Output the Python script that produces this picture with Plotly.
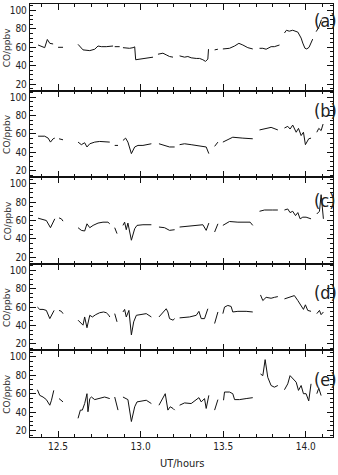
import plotly.graph_objects as go

# ---- data (UT hours, CO ppbv); None separates data gaps ----
a_x = [12.379,12.399,12.419,12.435,12.450,12.470,None,
       12.500,12.530,None,
       12.621,12.651,12.692,12.722,12.742,12.762,12.792,12.833,None,
       12.843,12.873,None,
       12.893,12.933,12.954,12.964,12.970,12.994,13.034,13.075,None,
       13.105,13.135,13.155,13.175,13.196,None,
       13.236,13.266,13.286,13.306,13.337,13.357,13.377,13.393,13.407,13.411,None,
       13.448,13.468,None,
       13.498,13.538,13.569,13.595,13.619,13.649,13.679,None,
       13.720,13.740,13.760,13.780,13.790,13.810,13.841,None,
       13.871,13.883,13.900,13.921,13.952,13.972,13.982,13.995,14.006,14.020,14.042,None,
       14.063,14.080,14.095]
a_y = [62.5,60.7,59.6,68.5,64.3,63.6,None,
       60.0,60.0,None,
       63.2,57.2,56.4,57.9,61.4,60.7,60.7,61.4,None,
       60.7,60.7,None,
       59.6,58.9,59.6,60.5,46.5,47.2,48.6,49.3,None,
       52.5,53.6,51.8,50.0,49.3,None,
       50.7,49.3,50.0,48.6,47.9,47.9,46.5,44.7,47.2,58.0,None,
       57.2,57.9,None,
       58.2,58.9,61.4,64.3,62.5,59.6,58.2,None,
       58.9,58.9,57.9,60.0,60.7,60.7,62.5,None,
       75.5,78.5,77.5,78.5,76.5,70.0,64.6,59.0,58.2,60.0,68.9,None,
       77.0,82.0,90.0]

b_x = [12.379,12.419,12.440,12.454,12.470,12.480,None,
       12.506,12.530,None,
       12.621,12.641,12.661,12.675,12.692,12.722,12.752,12.792,12.813,None,
       12.843,12.863,None,
       12.893,12.909,12.923,12.944,12.964,12.984,13.014,13.065,None,
       13.111,13.145,13.175,13.206,None,
       13.236,13.266,13.306,13.347,13.377,13.397,13.413,None,
       13.448,13.468,None,
       13.498,13.518,13.558,13.619,13.679,None,
       13.720,13.760,13.790,13.831,None,
       13.871,13.891,13.905,13.921,13.942,13.956,13.972,13.986,13.998,14.018,14.032,None,
       14.067,14.079,14.093,14.105]
b_y = [57.5,57.5,55.4,51.1,54.7,55.4,None,
       54.7,53.6,None,
       51.1,48.3,50.4,45.8,49.3,51.1,51.8,51.8,51.1,None,
       47.5,47.5,None,
       52.9,55.4,51.1,38.6,45.8,47.5,47.5,49.3,None,
       49.3,47.5,45.8,45.8,None,
       48.3,49.3,48.3,47.5,46.8,45.8,38.6,None,
       46.5,51.1,None,
       51.1,52.9,56.4,55.4,54.7,None,
       64.3,66.0,67.1,64.3,None,
       66.4,68.2,65.3,69.6,61.8,66.0,58.2,61.8,48.3,54.7,55.4,None,
       61.8,66.0,63.6,70.7]

c_x = [12.379,12.409,12.429,12.454,12.474,12.480,None,
       12.506,12.520,12.530,None,
       12.621,12.641,12.661,12.675,12.692,12.712,12.742,12.772,12.802,12.813,None,
       12.843,12.857,None,
       12.893,12.903,12.913,12.923,12.944,12.964,12.978,13.014,13.065,None,
       13.111,13.145,13.175,13.206,None,
       13.236,13.276,13.327,13.377,13.397,13.413,None,
       13.448,13.468,None,
       13.498,13.538,13.589,13.639,13.663,13.679,None,
       13.720,13.750,13.800,13.831,None,
       13.871,13.891,13.905,13.921,13.938,13.952,13.966,13.982,14.002,14.032,None,
       14.067,14.083,14.093,14.107]
c_y = [62.5,60.7,60.0,52.2,60.0,61.8,None,
       62.8,61.8,59.3,None,
       52.2,49.3,48.6,56.4,52.2,54.7,57.2,58.2,58.2,56.4,None,
       52.2,45.8,None,
       54.7,58.2,50.0,57.2,38.6,51.1,54.7,55.4,55.4,None,
       52.9,52.2,49.3,50.0,None,
       52.9,53.6,54.7,55.4,49.3,57.2,None,
       47.5,56.4,None,
       54.7,58.9,58.2,58.2,58.2,54.7,None,
       70.0,71.4,71.4,71.4,None,
       71.4,72.5,68.6,70.0,65.3,68.6,61.8,63.6,63.6,61.8,None,
       67.1,70.0,88.0,61.8]

d_x = [12.375,12.389,12.409,12.429,12.450,12.470,12.476,None,
       12.506,12.520,12.530,None,
       12.621,12.641,12.651,12.661,12.675,12.692,12.708,12.728,12.752,12.776,12.792,12.808,12.813,None,
       12.843,12.857,None,
       12.893,12.903,12.913,12.929,12.944,12.958,12.974,13.004,13.034,13.065,None,
       13.111,13.135,13.155,13.165,13.175,13.196,13.206,None,
       13.236,13.296,13.337,13.353,13.367,13.387,13.407,None,
       13.448,13.468,None,
       13.498,13.508,13.528,13.548,13.558,13.589,13.639,13.679,None,
       13.726,13.740,13.760,13.790,13.810,13.831,None,
       13.871,13.901,13.931,13.952,13.972,13.986,13.998,14.012,14.032,None,
       14.067,14.083,14.093,14.107]
d_y = [60.0,57.5,57.5,56.4,47.5,54.7,56.4,None,
       56.4,55.4,52.9,None,
       45.8,42.2,40.4,49.3,37.6,51.1,49.3,51.8,53.9,54.7,53.9,51.1,49.3,None,
       52.9,44.0,None,
       54.7,57.5,49.3,56.4,29.8,44.0,51.1,51.8,52.9,49.3,None,
       49.3,54.7,58.2,54.7,47.5,45.8,47.5,None,
       48.3,49.3,51.1,55.4,47.5,47.5,58.2,None,
       42.2,54.7,None,
       52.9,60.0,61.8,60.7,54.7,55.4,55.4,54.7,None,
       73.2,67.1,70.6,69.6,70.6,71.4,None,
       68.9,70.6,72.5,67.1,61.8,57.5,62.5,56.4,55.4,None,
       52.9,56.4,51.8,54.7]

e_x = [12.375,12.389,12.409,12.429,12.450,12.460,12.474,None,
       12.506,12.520,12.530,None,
       12.621,12.635,12.647,12.661,12.675,12.681,12.692,12.702,12.722,12.752,12.782,12.813,None,
       12.843,12.863,None,
       12.893,12.913,12.923,12.944,12.964,12.978,13.004,13.034,13.065,None,
       13.111,13.135,13.149,13.165,13.179,13.196,13.206,None,
       13.236,13.266,13.306,13.337,13.353,13.367,13.387,13.397,13.413,None,
       13.448,13.468,None,
       13.502,13.508,13.538,13.558,13.569,13.599,13.639,13.679,None,
       13.726,13.740,13.754,13.770,13.790,13.810,13.831,None,
       13.871,13.891,13.905,13.921,13.942,13.956,13.972,13.986,14.002,14.018,14.032,None,
       14.067,14.079,14.093]
e_y = [64.3,58.2,56.4,53.6,47.5,52.9,63.6,None,
       54.7,52.9,51.1,None,
       33.3,42.2,42.2,49.3,60.0,40.4,54.7,56.4,53.6,54.7,56.4,54.7,None,
       56.4,42.2,None,
       56.4,54.7,53.6,29.8,45.8,51.1,52.2,52.9,49.3,None,
       47.5,56.4,60.0,42.2,45.8,44.0,42.2,None,
       47.5,50.0,49.3,53.6,55.7,51.1,54.7,44.0,58.2,None,
       42.2,53.6,None,
       52.9,61.8,61.8,60.0,53.6,53.6,54.7,55.7,None,
       81.4,79.6,97.0,77.8,68.9,67.1,68.9,None,
       64.3,70.7,79.6,76.0,72.5,63.6,68.9,60.0,60.0,52.2,70.7,None,
       60.0,66.0,58.0]

panel_x = [a_x, b_x, c_x, d_x, e_x]
panel_y = [a_y, b_y, c_y, d_y, e_y]
panel_labels = ["(a)", "(b)", "(c)", "(d)", "(e)"]
label_y = [0.963, 0.755, 0.547, 0.333, 0.132]

x_ticks = [12.5, 13.0, 13.5, 14.0]
x_ticktext = ["12.5", "13.0", "13.5", "14.0"]
y_ticks = [20, 40, 60, 80, 100]

x_title = "UT/hours"
y_title = "CO/ppbv"

# ---- figure ----
NARROW = "DejaVu Sans Condensed, Liberation Sans, Arial, sans-serif"
fig = go.Figure()
n = 5
tickfont = dict(family=NARROW, size=10, color="#222")
layout = dict(
    width=338, height=475,
    margin=dict(l=30, r=5, t=4, b=38),
    paper_bgcolor="white", plot_bgcolor="white",
    showlegend=False,
)
annotations = []
for i in range(n):
    k = "" if i == 0 else str(i + 1)
    top = 1 - i / n
    bot = 1 - (i + 1) / n
    fig.add_trace(go.Scatter(
        x=panel_x[i], y=panel_y[i], mode="lines",
        line=dict(color="#111", width=1),
        connectgaps=False, hoverinfo="skip",
        xaxis="x" + k, yaxis="y" + k,
    ))
    layout["xaxis" + k] = dict(
        domain=[0, 1], anchor="y" + k, range=[12.33, 14.165],
        tickvals=x_ticks, ticktext=x_ticktext,
        showticklabels=(i == n - 1),
        ticks="inside", ticklen=6, tickwidth=1, tickcolor="#111",
        minor=dict(dtick=0.1, tick0=12.0, ticks="inside", ticklen=3, tickcolor="#111"),
        showline=True, linecolor="#111", linewidth=1.3, mirror="ticks",
        showgrid=False, zeroline=False, tickfont=tickfont,
    )
    layout["yaxis" + k] = dict(
        domain=[bot, top], anchor="x" + k, range=[13, 107],
        tickvals=y_ticks,
        ticks="inside", ticklen=6, tickwidth=1, tickcolor="#111",
        minor=dict(dtick=5, tick0=0, ticks="inside", ticklen=3, tickcolor="#111"),
        showline=True, linecolor="#111", linewidth=1.3, mirror="ticks",
        showgrid=False, zeroline=False, tickfont=tickfont,
    )
    annotations.append(dict(
        text=y_title, xref="paper", yref="paper", x=0, y=(top + bot) / 2,
        xanchor="center", yanchor="middle", xshift=-23, textangle=-90,
        showarrow=False, font=dict(family="DejaVu Sans, sans-serif", size=9, color="#333"),
    ))
    annotations.append(dict(
        text=panel_labels[i], xref="paper", yref="paper", x=0.9736, y=label_y[i],
        xanchor="center", yanchor="middle", showarrow=False,
        font=dict(family=NARROW, size=18, color="#222"),
    ))

annotations.append(dict(
    text=x_title, xref="paper", yref="paper", x=0.5, y=0, yshift=-26,
    xanchor="center", yanchor="middle", showarrow=False,
    font=dict(family=NARROW, size=11, color="#222"),
))
layout["annotations"] = annotations
fig.update_layout(**layout)
fig.write_html("out.html")
